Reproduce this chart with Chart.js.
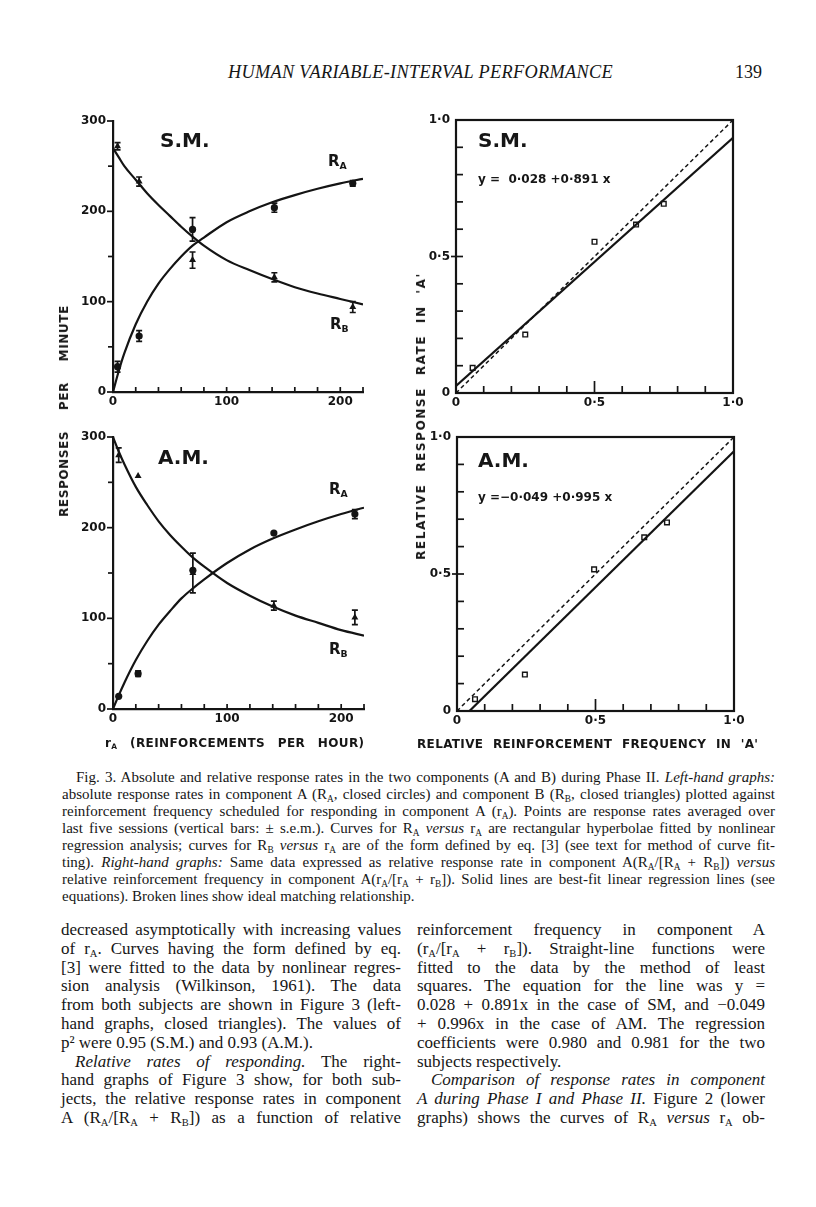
<!DOCTYPE html>
<html>
<head>
<meta charset="utf-8">
<title>Fig. 3 - human variable-interval performance</title>
<script src="https://cdn.jsdelivr.net/npm/chart.js@4.4.1/dist/chart.umd.min.js"></script>
<style>
  body { margin: 0; background: #fff; }
  #page { position: relative; width: 816px; height: 1207px; overflow: hidden; color: #161616;
          font-family: "Liberation Serif", "Times New Roman", serif; }
  .abs { position: absolute; white-space: nowrap; line-height: 1; }
  canvas { position: absolute; }
  .sans { font-family: "DejaVu Sans", sans-serif; font-weight: bold; }
  .s { font-size: 62%; position: relative; top: 0.28em; line-height: 0; }
  .cap, .col { position: absolute; }
  .cap div, .col div { text-align: justify; text-align-last: justify; white-space: normal; }
  .cap div.last, .col div.last { text-align-last: left; }
  .cap { left: 62px; top: 769px; width: 713px; font-size: 15px; line-height: 17px; }
  .col { top: 921px; width: 340px; font-size: 17px; line-height: 18.8px; }
  .ind { text-indent: 14px; }
</style>
</head>
<body>
<div id="page">
  <div class="abs" style="left:228px;top:63px;font-size:18.3px;font-style:italic;letter-spacing:0.3px;">HUMAN VARIABLE-INTERVAL PERFORMANCE</div>
  <div class="abs" style="left:735px;top:63px;font-size:18px;">139</div>

  <canvas id="absSM" style="left:60px;top:100px;width:320px;height:320px" width="320" height="320"></canvas>
  <canvas id="absAM" style="left:60px;top:416px;width:320px;height:320px" width="320" height="320"></canvas>
  <canvas id="relSM" style="left:400px;top:100px;width:360px;height:320px" width="360" height="320"></canvas>
  <canvas id="relAM" style="left:400px;top:417px;width:360px;height:320px" width="360" height="320"></canvas>

  <!-- labels inside the graphs -->
  <div class="abs sans" style="left:160px;top:130px;font-size:20px;">S.M.</div>
  <div class="abs sans" style="left:328px;top:154px;font-size:15px;">R<span class="s">A</span></div>
  <div class="abs sans" style="left:330px;top:317px;font-size:15px;">R<span class="s">B</span></div>
  <div class="abs sans" style="left:158px;top:447px;font-size:20px;">A.M.</div>
  <div class="abs sans" style="left:329px;top:482px;font-size:15px;">R<span class="s">A</span></div>
  <div class="abs sans" style="left:329px;top:642px;font-size:15px;">R<span class="s">B</span></div>
  <div class="abs sans" style="left:478px;top:130px;font-size:20px;">S.M.</div>
  <div class="abs sans" style="left:478px;top:173px;font-size:12px;white-space:pre;">y =  0·028 +0·891 x</div>
  <div class="abs sans" style="left:478px;top:450px;font-size:20px;">A.M.</div>
  <div class="abs sans" style="left:478px;top:491px;font-size:12px;white-space:pre;">y =−0·049 +0·995 x</div>

  <!-- axis titles -->
  <div class="abs sans" style="left:64px;top:411px;font-size:12px;letter-spacing:0.6px;word-spacing:16px;transform:translate(-50%,-50%) rotate(-90deg);">RESPONSES PER MINUTE</div>
  <div class="abs sans" style="left:421px;top:416px;font-size:12px;letter-spacing:1.6px;word-spacing:6px;transform:translate(-50%,-50%) rotate(-90deg);">RELATIVE RESPONSE RATE IN 'A'</div>
  <div class="abs sans" style="left:105px;top:737px;font-size:12px;letter-spacing:0.4px;word-spacing:8px;">r<span class="s">A</span> (REINFORCEMENTS PER HOUR)</div>
  <div class="abs sans" style="left:417px;top:738px;font-size:12px;letter-spacing:0.35px;word-spacing:5px;">RELATIVE REINFORCEMENT FREQUENCY IN 'A'</div>

  <div class="cap">
    <div class="ind">Fig. 3. Absolute and relative response rates in the two components (A and B) during Phase II. <i>Left-hand graphs:</i></div>
    <div>absolute response rates in component A (R<span class="s">A</span>, closed circles) and component B (R<span class="s">B</span>, closed triangles) plotted against</div>
    <div>reinforcement frequency scheduled for responding in component A (r<span class="s">A</span>). Points are response rates averaged over</div>
    <div>last five sessions (vertical bars: ± s.e.m.). Curves for R<span class="s">A</span> <i>versus</i> r<span class="s">A</span> are rectangular hyperbolae fitted by nonlinear</div>
    <div>regression analysis; curves for R<span class="s">B</span> <i>versus</i> r<span class="s">A</span> are of the form defined by eq. [3] (see text for method of curve fit-</div>
    <div>ting). <i>Right-hand graphs:</i> Same data expressed as relative response rate in component A(R<span class="s">A</span>/[R<span class="s">A</span> + R<span class="s">B</span>]) <i>versus</i></div>
    <div>relative reinforcement frequency in component A(r<span class="s">A</span>/[r<span class="s">A</span> + r<span class="s">B</span>]). Solid lines are best-fit linear regression lines (see</div>
    <div class="last">equations). Broken lines show ideal matching relationship.</div>
  </div>

  <div class="col" style="left:61px;">
    <div>decreased asymptotically with increasing values</div>
    <div>of r<span class="s">A</span>. Curves having the form defined by eq.</div>
    <div>[3] were fitted to the data by nonlinear regres-</div>
    <div>sion analysis (Wilkinson, 1961). The data</div>
    <div>from both subjects are shown in Figure 3 (left-</div>
    <div>hand graphs, closed triangles). The values of</div>
    <div class="last">p² were 0.95 (S.M.) and 0.93 (A.M.).</div>
    <div class="ind"><i>Relative rates of responding.</i> The right-</div>
    <div>hand graphs of Figure 3 show, for both sub-</div>
    <div>jects, the relative response rates in component</div>
    <div>A (R<span class="s">A</span>/[R<span class="s">A</span> + R<span class="s">B</span>]) as a function of relative</div>
  </div>
  <div class="col" style="left:417px;width:348px;">
    <div>reinforcement frequency in component A</div>
    <div>(r<span class="s">A</span>/[r<span class="s">A</span> + r<span class="s">B</span>]). Straight-line functions were</div>
    <div>fitted to the data by the method of least</div>
    <div>squares. The equation for the line was y =</div>
    <div>0.028 + 0.891x in the case of SM, and −0.049</div>
    <div>+ 0.996x in the case of AM. The regression</div>
    <div>coefficients were 0.980 and 0.981 for the two</div>
    <div class="last">subjects respectively.</div>
    <div class="ind"><i>Comparison of response rates in component</i></div>
    <div><i>A during Phase I and Phase II.</i> Figure 2 (lower</div>
    <div>graphs) shows the curves of R<span class="s">A</span> <i>versus</i> r<span class="s">A</span> ob-</div>
  </div>
</div>

<script>
const ink = '#141414';

// left-hand graphs: response rates against r_A (reinforcements per hour)
const rateSM   = [4, 23, 70, 142, 211];
const respA_SM = [28, 62, 180, 204, 231];
const errA_SM  = [6, 6, 13, 5, 3];
const respB_SM = [272, 233, 146, 127, 94];
const errB_SM  = [4, 5, 9, 5, 6];

const rateAM   = [5, 22, 70, 141, 212];
const respA_AM = [14, 39, 153, 194, 215];
const errA_AM  = [0, 3, 0, 0, 5];
const respB_AM = [280, 257, 150, 114, 101];
const errB_AM  = [8, 0, 22, 5, 8];

// fitted curves
const curveX   = [0, 5, 10, 20, 30, 40, 50, 60, 70, 80, 100, 120, 140, 160, 180, 200, 220];
const fitA_SM  = [0, 23, 43, 75, 100, 120, 136, 150, 162, 171, 188, 200, 210, 218, 225, 231, 236];
const fitB_SM  = [270, 260, 250, 235, 220, 207, 195, 183, 172, 162, 146, 135, 125, 116, 109, 103, 97];
const fitA_AM  = [0, 15, 29, 54, 75, 93, 108, 122, 133, 143, 161, 176, 188, 198, 207, 215, 222];
const fitB_AM  = [300, 284, 270, 245, 225, 207, 192, 179, 167, 157, 139, 125, 113, 103, 95, 87, 81];

// right-hand graphs: relative response rate against relative reinforcement frequency
const relX_SM = [0.06, 0.25, 0.50, 0.65, 0.75];
const relY_SM = [0.092, 0.214, 0.554, 0.617, 0.693];
const relX_AM = [0.065, 0.245, 0.495, 0.676, 0.758];
const relY_AM = [0.043, 0.133, 0.517, 0.634, 0.688];

const regX_SM = [0, 1];
const regY_SM = [0.026, 0.935];
const regX_AM = [0.045, 1];
const regY_AM = [0, 0.948];
const matchX  = [0, 1];
const matchY  = [0, 1];

// tick labels
const absMajorX = [0, 100, 200];
const absMajorY = [0, 100, 200, 300];
const relMajor  = [0, 0.5, 1];
const relLabels = ['0', '0·5', '1·0'];

const pts = (xs, ys) => xs.map((x, i) => ({ x: x, y: ys[i] }));
const near = (v, list) => list.findIndex(m => Math.abs(m - v) < 1e-6);
const tickFont = { family: 'DejaVu Sans', weight: 'bold', size: 12 };

// vertical +/- s.e.m. bars
const errorBars = {
    id: 'errorBars',
    afterDatasetsDraw(chart) {
        const { ctx, scales: { x, y } } = chart;
        chart.data.datasets.forEach(ds => {
            if (!ds.errors) return;
            ctx.save();
            ctx.strokeStyle = ink;
            ctx.lineWidth = 1.7;
            ds.data.forEach((p, i) => {
                const e = ds.errors[i];
                if (!e) return;
                const px = x.getPixelForValue(p.x);
                const top = y.getPixelForValue(p.y + e);
                const bot = y.getPixelForValue(p.y - e);
                ctx.beginPath();
                ctx.moveTo(px, top); ctx.lineTo(px, bot);
                ctx.moveTo(px - 3, top); ctx.lineTo(px + 3, top);
                ctx.moveTo(px - 3, bot); ctx.lineTo(px + 3, bot);
                ctx.stroke();
            });
            ctx.restore();
        });
    }
};

// short tick marks, drawn where the library puts the ticks
const tickMarks = {
    id: 'tickMarks',
    afterDraw(chart, args, opts) {
        const { ctx, chartArea: a, scales: { x, y } } = chart;
        ctx.save();
        ctx.strokeStyle = ink;
        ctx.lineWidth = 1.7;
        x.ticks.forEach(t => {
            const px = x.getPixelForValue(t.value);
            const len = near(t.value, opts.majorX) >= 0 ? opts.xMajorLen : opts.xLen;
            ctx.beginPath();
            ctx.moveTo(px, a.bottom + opts.xOut);
            ctx.lineTo(px, a.bottom - len);
            ctx.stroke();
        });
        y.ticks.forEach(t => {
            const py = y.getPixelForValue(t.value);
            const major = near(t.value, opts.majorY) >= 0;
            ctx.beginPath();
            ctx.moveTo(a.left - (major ? opts.yMajorOut : opts.yOut), py);
            ctx.lineTo(a.left + (major ? opts.yMajorIn : opts.yIn), py);
            ctx.stroke();
        });
        if (opts.box) {
            ctx.lineWidth = 2.2;
            ctx.strokeRect(a.left, a.top, a.width, a.height);
        }
        ctx.restore();
    }
};

function absChart(id, rate, respA, errA, respB, errB, fitA, fitB, rightPad, xHeight) {
    return new Chart(document.getElementById(id), {
        type: 'line',
        data: {
            datasets: [
                { data: pts(curveX, fitA), borderColor: ink, borderWidth: 2.2, pointRadius: 0, cubicInterpolationMode: 'monotone' },
                { data: pts(curveX, fitB), borderColor: ink, borderWidth: 2.2, pointRadius: 0, cubicInterpolationMode: 'monotone' },
                { data: pts(rate, respA), errors: errA, showLine: false, pointStyle: 'circle', pointRadius: 3.6,
                  pointBackgroundColor: ink, pointBorderColor: ink, pointBorderWidth: 0 },
                { data: pts(rate, respB), errors: errB, showLine: false, pointStyle: 'triangle', pointRadius: 4,
                  pointBackgroundColor: ink, pointBorderColor: ink, pointBorderWidth: 0 }
            ]
        },
        options: {
            responsive: false,
            animation: false,
            layout: { padding: { left: 0, top: 21, right: rightPad, bottom: 0 } },
            plugins: {
                legend: { display: false },
                tooltip: { enabled: false },
                tickMarks: { majorX: absMajorX, majorY: absMajorY, xLen: 5, xMajorLen: 5, xOut: 1,
                             yOut: 5, yMajorOut: 6, yIn: 0, yMajorIn: 0, box: false }
            },
            scales: {
                x: {
                    type: 'linear', min: 0, max: 220,
                    ticks: { stepSize: 20, autoSkip: false, maxRotation: 0, padding: 3, font: tickFont, color: ink,
                             callback: v => near(v, absMajorX) >= 0 ? String(v) : '' },
                    grid: { display: false, drawTicks: false },
                    border: { display: true, color: ink, width: 2.2 },
                    afterFit: s => { s.height = xHeight; }
                },
                y: {
                    min: 0, max: 300,
                    ticks: { stepSize: 50, autoSkip: false, padding: 7, font: tickFont, color: ink,
                             callback: v => near(v, absMajorY) >= 0 ? String(v) : '' },
                    grid: { display: false, drawTicks: false },
                    border: { display: true, color: ink, width: 2.2 },
                    afterFit: s => { s.width = 53; }
                }
            }
        },
        plugins: [errorBars, tickMarks]
    });
}

function relChart(id, relX, relY, regX, regY, yWidth, rightPad, xHeight) {
    const relTick = v => { const k = near(v, relMajor); return k >= 0 ? relLabels[k] : ''; };
    return new Chart(document.getElementById(id), {
        type: 'line',
        data: {
            datasets: [
                { data: pts(matchX, matchY), borderColor: ink, borderWidth: 1.5, borderDash: [4, 3], pointRadius: 0 },
                { data: pts(regX, regY), borderColor: ink, borderWidth: 2.2, pointRadius: 0 },
                { data: pts(relX, relY), showLine: false, pointStyle: 'rect', pointRadius: 3.3,
                  pointBackgroundColor: '#fff', pointBorderColor: ink, pointBorderWidth: 1.4 }
            ]
        },
        options: {
            responsive: false,
            animation: false,
            layout: { padding: { left: 0, top: 20, right: rightPad, bottom: 0 } },
            plugins: {
                legend: { display: false },
                tooltip: { enabled: false },
                tickMarks: { majorX: [0.5], majorY: [0.5], xLen: 7, xMajorLen: 12, xOut: 0,
                             yOut: 0, yMajorOut: 5, yIn: 7, yMajorIn: 7, box: true }
            },
            scales: {
                x: {
                    type: 'linear', min: 0, max: 1,
                    ticks: { stepSize: 0.1, autoSkip: false, maxRotation: 0, padding: 3, font: tickFont, color: ink,
                             callback: relTick },
                    grid: { display: false, drawTicks: false },
                    border: { display: false },
                    afterFit: s => { s.height = xHeight; }
                },
                y: {
                    min: 0, max: 1,
                    ticks: { stepSize: 0.1, autoSkip: false, padding: 6, font: tickFont, color: ink,
                             callback: relTick },
                    grid: { display: false, drawTicks: false },
                    border: { display: false },
                    afterFit: s => { s.width = yWidth; }
                }
            }
        },
        plugins: [tickMarks]
    });
}

absChart('absSM', rateSM, respA_SM, errA_SM, respB_SM, errB_SM, fitA_SM, fitB_SM, 17, 28);
absChart('absAM', rateAM, respA_AM, errA_AM, respB_AM, errB_AM, fitA_AM, fitB_AM, 16, 27);
relChart('relSM', relX_SM, relY_SM, regX_SM, regY_SM, 56, 27, 27);
relChart('relAM', relX_AM, relY_AM, regX_AM, regY_AM, 57, 26, 26);
</script>
</body>
</html>
